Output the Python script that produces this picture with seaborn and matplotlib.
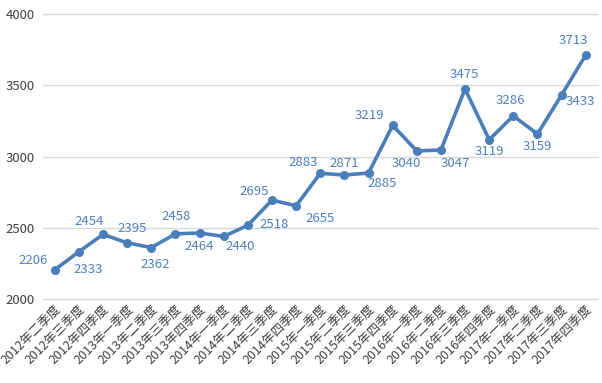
# -*- coding: utf-8 -*-
# quarterly line chart with value labels
import seaborn as sns
import matplotlib.pyplot as plt
import pandas as pd

quarters = ["2012年二季度", "2012年三季度", "2012年四季度",
            "2013年一季度", "2013年二季度", "2013年三季度", "2013年四季度",
            "2014年一季度", "2014年二季度", "2014年三季度", "2014年四季度",
            "2015年一季度", "2015年二季度", "2015年三季度", "2015年四季度",
            "2016年一季度", "2016年二季度", "2016年三季度", "2016年四季度",
            "2017年一季度", "2017年二季度", "2017年三季度", "2017年四季度"]
values = [2206, 2333, 2454, 2395, 2362, 2458, 2464, 2440, 2518, 2695, 2655, 2883,
          2871, 2885, 3219, 3040, 3047, 3475, 3119, 3286, 3159, 3433, 3713]

# label offsets from each point, in pixels (x right, y up)
label_offsets = [(-22, 9), (9, -18), (-14, 13), (5, 14), (4, -17), (1, 17), (0, -13),
                 (16, -10), (26, 1), (-18, 9), (24, -13), (-17, 11), (0, 12), (14, -10),
                 (-23, 10), (-11, -13), (14, -14), (-1, 14), (0, -12), (-3, 15), (0, -13),
                 (19, -7), (-12, 15)]

sns.set_theme(style="whitegrid")
plt.rcParams['font.family'] = ['Noto Sans CJK SC', 'DejaVu Sans']

df = pd.DataFrame({"quarter": quarters, "value": values})

fig, ax = plt.subplots(figsize=(6.02, 3.83), dpi=100)
fig.subplots_adjust(left=0.071, right=0.993, top=0.963, bottom=0.219)

blue = "#4a7ebb"
sns.lineplot(data=df, x="quarter", y="value", ax=ax, color=blue, linewidth=2.6,
             marker="o", markersize=6.5, markeredgewidth=0, sort=False)

for i, (v, off) in enumerate(zip(values, label_offsets)):
    ax.annotate(str(v), (i, v), xytext=off, textcoords="offset pixels",
                ha="center", va="center", color="#4f81bd", fontsize=9.5)

ax.set_ylim(2000, 4000)
ax.set_yticks([2000, 2500, 3000, 3500, 4000])
ax.set_xlim(-0.5, len(quarters) - 0.5)
ax.set_xlabel("")
ax.set_ylabel("")
ax.grid(axis="x", visible=False)
ax.grid(axis="y", color="#d9d9d9", linewidth=1)
for line in ax.get_ygridlines():
    line.set_clip_on(False)
for s in ax.spines.values():
    s.set_visible(False)
ax.set_facecolor("white")
plt.setp(ax.get_xticklabels(), rotation=45, ha="right", rotation_mode="anchor",
         fontsize=9, color="#404040")
plt.setp(ax.get_yticklabels(), fontsize=9.5, color="#404040")
ax.tick_params(axis="x", pad=3, length=0)
ax.tick_params(axis="y", pad=5.5, length=0)

fig.savefig("out.png", dpi=100)
